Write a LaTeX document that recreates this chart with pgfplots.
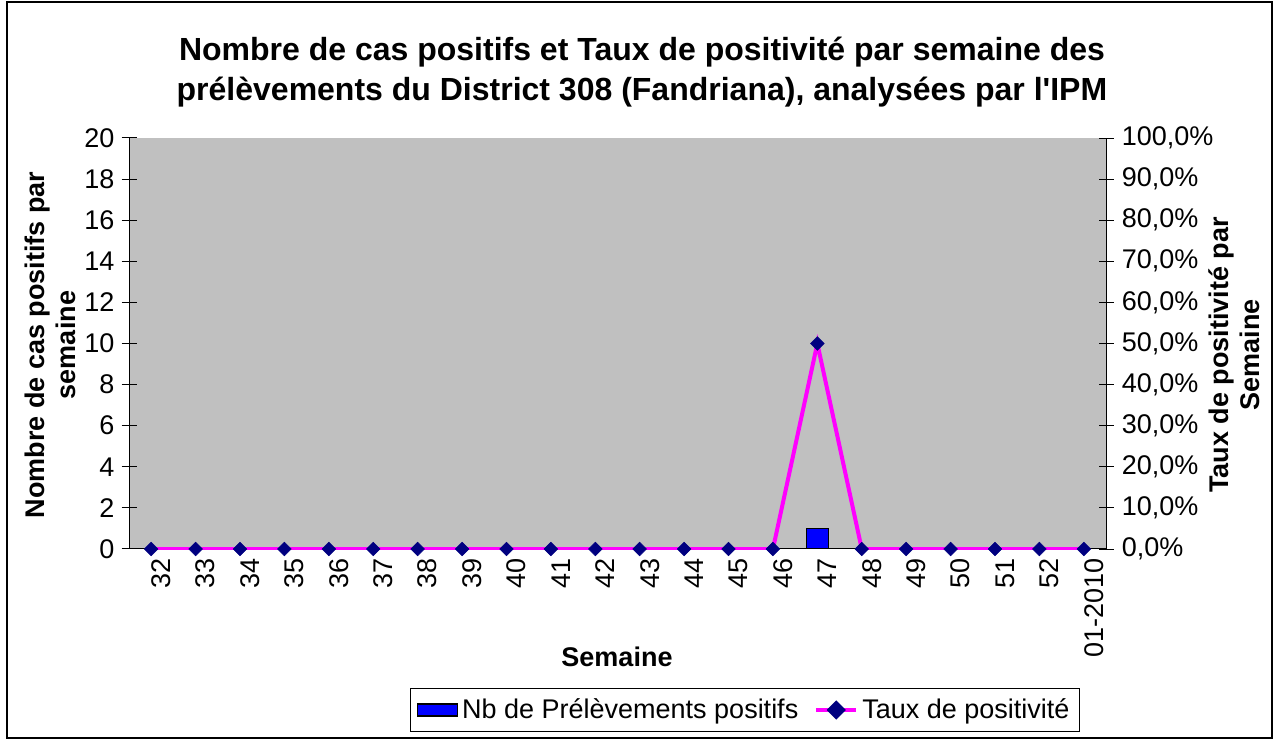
\documentclass[border=0pt]{standalone}
\usepackage{fontspec}
\setmainfont{Liberation Sans}
\usepackage{pgfplots}
\pgfplotsset{compat=1.18}
\definecolor{plotbg}{RGB}{192,192,192}
\definecolor{navy}{RGB}{0,0,128}
\definecolor{mag}{RGB}{255,0,255}

\begin{document}
\begin{tikzpicture}
\path[use as bounding box] (0,0) rectangle (638pt,370pt);
\draw[line width=0.8pt] (3.5pt,1pt) rectangle (636pt,369pt);

\pgfplotsset{
  common/.style={
    scale only axis,
    width=488.5pt, height=205.5pt,
    at={(64.5pt,95.5pt)}, anchor=south west,
    xmin=-0.5, xmax=21.5,
    ymin=0,
    tick align=center,
    major tick length=7.5pt,
    minor tick length=7.5pt,
    tick style={black, line width=0.5pt},
    ticklabel style={font=\fontsize{13.5}{16}\selectfont},
    /pgf/number format/assume math mode=true,
  }
}

% bars
\begin{axis}[common,
  axis y line*=left,
  axis x line*=bottom,
  axis line style={black, line width=0.5pt},
  axis background/.style={fill=plotbg},
  ymax=20,
  ytick={0,2,...,20},
  xtick={0,...,21},
  xticklabels={32,33,34,35,36,37,38,39,40,41,42,43,44,45,46,47,48,49,50,51,52,01-2010},
  xtick style={draw=none},
  minor xtick={-0.5,0.5,...,21.5},
  xticklabel style={rotate=90, anchor=east, inner sep=1pt, yshift=-5pt},
]
\addplot[ybar, bar width=11pt, fill=blue, draw=black, line width=0.8pt] coordinates {
  (15,1)
};
\end{axis}

% rate line
\begin{axis}[common,
  axis y line*=right,
  axis x line=none,
  ymax=100,
  ytick={0,10,...,100},
  yticklabel={\pgfmathprintnumber[fixed,fixed zerofill,precision=1,use comma]{\tick}\%},
  yticklabel style={anchor=west, inner sep=2pt, xshift=2pt},
  legend columns=2,
  legend style={at={(0.6305,-0.3917)}, anchor=center, draw=black, line width=0.6pt,
    font=\fontsize{13.5}{16}\selectfont, inner sep=3pt,
    /tikz/every even column/.append style={column sep=6pt}},
  legend cell align=left,
]
\addlegendimage{legend image code/.code={\draw[fill=blue, draw=black, line width=0.8pt] (0pt,-3pt) rectangle (20pt,3pt);}}
\addlegendentry{Nb de Prélèvements positifs}
\addplot[mag, line width=2pt, mark=square*, mark size=2.4pt,
  mark options={rotate=45, fill=navy, draw=navy, line width=0.3pt},
  legend image code/.code={\draw[mag, line width=2pt] (0pt,0pt) -- (20pt,0pt);
    \fill[navy] (10pt,3.4pt) -- (13.4pt,0pt) -- (10pt,-3.4pt) -- (6.6pt,0pt) -- cycle;}] coordinates {
  (0,0) (1,0) (2,0) (3,0) (4,0) (5,0) (6,0) (7,0) (8,0) (9,0) (10,0)
  (11,0) (12,0) (13,0) (14,0) (15,50) (16,0) (17,0) (18,0) (19,0) (20,0) (21,0)
};
\addlegendentry{Taux de positivité}
\end{axis}

\node[font=\fontsize{16}{20}\selectfont\bfseries, align=center] at (321pt,334pt)
  {Nombre de cas positifs et Taux de positivité par semaine des\\prélèvements du District 308 (Fandriana), analysées par l\textquotesingle IPM};
\node[rotate=90, font=\fontsize{13.5}{15.5}\selectfont\bfseries, align=center] at (25pt,197.5pt)
  {Nombre de cas positifs par\\semaine};
\node[rotate=90, font=\fontsize{13.5}{15.5}\selectfont\bfseries, align=center] at (617pt,192.5pt)
  {Taux de positivité par\\Semaine};
\node[font=\fontsize{13.5}{16}\selectfont\bfseries] at (308.5pt,41.5pt) {Semaine};
\end{tikzpicture}
\end{document}
